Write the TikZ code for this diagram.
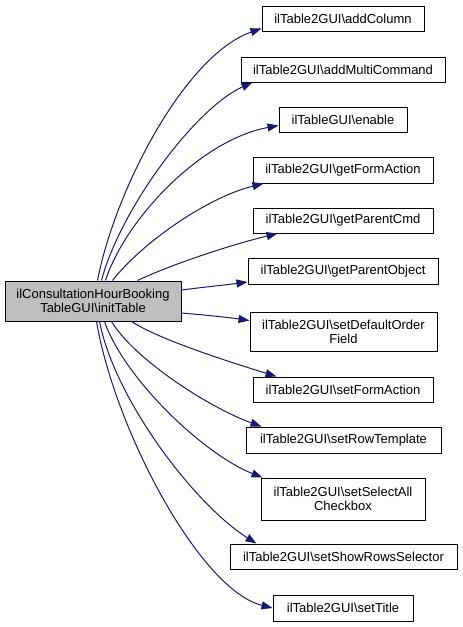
\documentclass[tikz,border=0pt]{standalone}
\usepackage{fontspec}
\setmainfont{Liberation Sans}
\usetikzlibrary{arrows.meta}
\definecolor{edgeblue}{HTML}{191970}
\begin{document}
\begin{tikzpicture}[x=1pt,y=-1pt,
  box/.style={draw=black,line width=1pt,fill=white,inner sep=0pt,align=center,
    font=\fontsize{13}{14}\selectfont},
  mainbox/.style={box,fill=black!25},
  edge/.style={draw=edgeblue,line width=1pt,-{Triangle[length=11pt,width=8pt]}}]
\useasboundingbox (0,0) rectangle (463,627);
\node[mainbox,minimum width=176pt,minimum height=40pt] (main) at (93,301) {ilConsultationHourBooking\\TableGUI\textbackslash initTable};
\node[box,minimum width=162pt,minimum height=25pt] (a1) at (343,18.5) {ilTable2GUI\textbackslash addColumn};
\node[box,minimum width=204pt,minimum height=25pt] (a2) at (343,69.5) {ilTable2GUI\textbackslash addMultiCommand};
\node[box,minimum width=128pt,minimum height=25pt] (a3) at (343,119.5) {ilTableGUI\textbackslash enable};
\node[box,minimum width=180pt,minimum height=26pt] (a4) at (343,170) {ilTable2GUI\textbackslash getFormAction};
\node[box,minimum width=180pt,minimum height=25pt] (a5) at (343,220.5) {ilTable2GUI\textbackslash getParentCmd};
\node[box,minimum width=190pt,minimum height=26pt] (a6) at (343,271) {ilTable2GUI\textbackslash getParentObject};
\node[box,minimum width=187pt,minimum height=39pt] (a7) at (343.5,331.5) {ilTable2GUI\textbackslash setDefaultOrder\\Field};
\node[box,minimum width=180pt,minimum height=25pt] (a8) at (343,389.5) {ilTable2GUI\textbackslash setFormAction};
\node[box,minimum width=195pt,minimum height=26pt] (a9) at (343.5,440) {ilTable2GUI\textbackslash setRowTemplate};
\node[box,minimum width=164pt,minimum height=42pt] (a10) at (343,499) {ilTable2GUI\textbackslash setSelectAll\\Checkbox};
\node[box,minimum width=227pt,minimum height=25pt] (a11) at (343.5,556.5) {ilTable2GUI\textbackslash setShowRowsSelector};
\node[box,minimum width=140pt,minimum height=26pt] (a12) at (343,608) {ilTable2GUI\textbackslash setTitle};

\draw[edge] ([xshift=93pt]main.north west) .. controls (115,190) and (185,55) .. ([yshift=3pt]a1.south west);
\draw[edge] ([xshift=97pt]main.north west) .. controls (120,210) and (195,108) .. ([xshift=12pt]a2.south west);
\draw[edge] ([xshift=101pt]main.north west) .. controls (125,220) and (200,140) .. ([yshift=-6pt]a3.west);
\draw[edge] ([xshift=108pt]main.north west) .. controls (140,245) and (205,198) .. ([xshift=11pt]a4.south west);
\draw[edge] ([xshift=133pt]main.north west) .. controls (170,265) and (230,245) .. ([xshift=25pt]a5.south west);
\draw[edge] ([yshift=11pt]main.east) .. controls (205,287) and (225,285) .. ([yshift=-11pt]a6.west);
\draw[edge] ([yshift=-12pt]main.east) .. controls (205,315) and (225,317) .. ([yshift=11pt]a7.west);
\draw[edge] ([xshift=127pt]main.south west) .. controls (160,340) and (230,362) .. ([xshift=24pt]a8.north west);
\draw[edge] ([xshift=107pt]main.south west) .. controls (135,360) and (210,408) .. ([xshift=16pt]a9.north west);
\draw[edge] ([xshift=100pt]main.south west) .. controls (125,380) and (205,455) .. ([xshift=2pt]a10.north west);
\draw[edge] ([xshift=95pt]main.south west) .. controls (115,400) and (195,505) .. ([xshift=27pt]a11.north west);
\draw[edge] ([xshift=92pt]main.south west) .. controls (115,430) and (200,590) .. (a12.west);
\end{tikzpicture}
\end{document}
